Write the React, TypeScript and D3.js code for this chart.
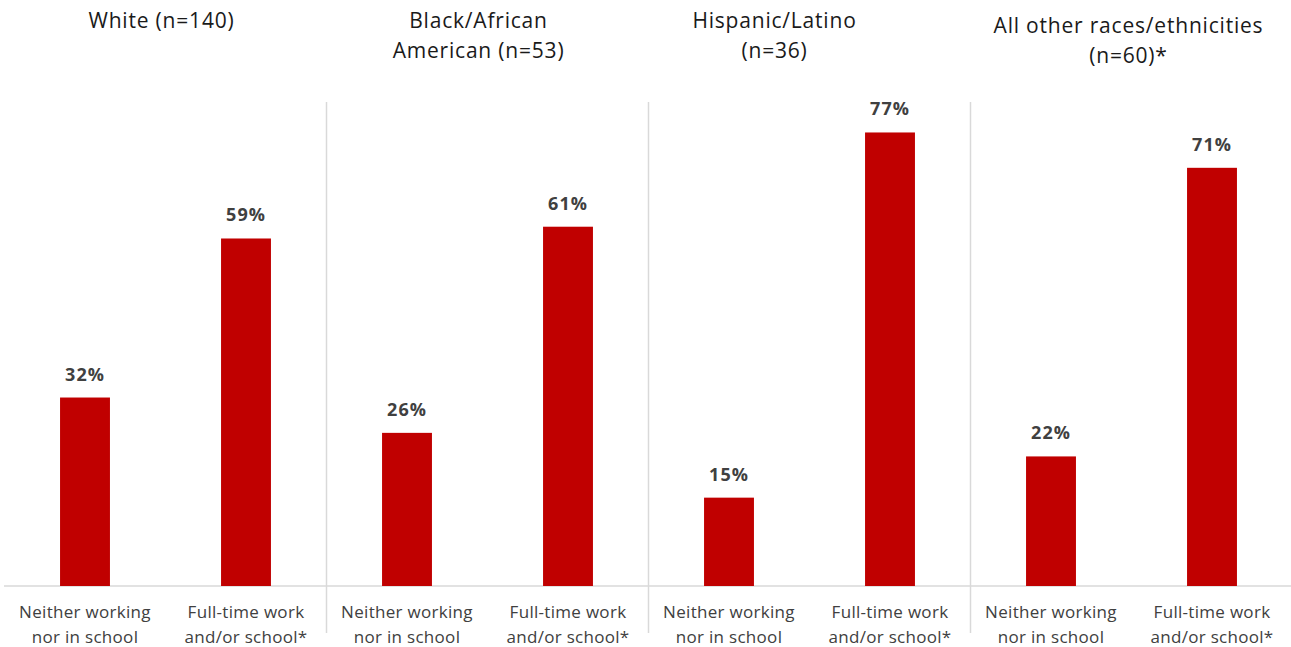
import React from "react";
import * as d3 from "d3";

const groups = [
  ["White (n=140)"],
  ["Black/African", "American (n=53)"],
  ["Hispanic/Latino", "(n=36)"],
  ["All other races/ethnicities", "(n=60)*"],
];
const titleDx = [-4, -9, -35, -3];
const titleDy = [0, 0, 0, 5];
const statuses = [
  ["Neither working", "nor in school"],
  ["Full-time work", "and/or school*"],
];
const neitherValues = [32, 26, 15, 22];
const fullTimeValues = [59, 61, 77, 71];

const W = 1291;
const H = 647;

export default function App() {
  const cats: { key: string; g: number; s: number; v: number }[] = [];
  groups.forEach((_, g) => {
    cats.push({ key: `${g}-0`, g, s: 0, v: neitherValues[g] });
    cats.push({ key: `${g}-1`, g, s: 1, v: fullTimeValues[g] });
  });
  const x = d3
    .scaleBand<string>()
    .domain(cats.map((c) => c.key))
    .range([4.5, 1292.5])
    .paddingInner(0.69)
    .paddingOuter(0.345);
  const step = x.step();
  const y = d3.scaleLinear().domain([0, 100]).range([586, -3]);
  const font = "'Open Sans', sans-serif";
  const groupCenter = (g: number) =>
    ((x(`${g}-0`)! + x(`${g}-1`)! + x.bandwidth()) / 2);
  const groupRight = (g: number) => x(`${g}-1`)! + x.bandwidth() + (step - x.bandwidth()) / 2;

  return (
    <svg width={W} height={H} style={{ position: "absolute", left: 0, top: 0, background: "#fff" }}>
      {groups.slice(0, -1).map((_, g) => (
        <line
          key={`sep${g}`}
          x1={groupRight(g)}
          x2={groupRight(g)}
          y1={102}
          y2={633}
          stroke="#d9d9d9"
          strokeWidth={1.5}
        />
      ))}
      <line x1={4} x2={W} y1={y(0)} y2={y(0)} stroke="#d9d9d9" strokeWidth={1.5} />
      {cats.map((c) => (
        <g key={c.key}>
          <rect
            x={x(c.key)}
            y={y(c.v)}
            width={x.bandwidth()}
            height={y(0) - y(c.v)}
            fill="#c00000"
          />
          <text
            x={x(c.key)! + x.bandwidth() / 2}
            y={y(c.v) - 17}
            textAnchor="middle"
            fontFamily={font}
            fontWeight="bold"
            fontSize={18}
            letterSpacing={1}
            fill="#404040"
          >
            {c.v}%
          </text>
          {statuses[c.s].map((line, i) => (
            <text
              key={i}
              x={x(c.key)! + x.bandwidth() / 2}
              y={618 + i * 25}
              textAnchor="middle"
              fontFamily={font}
              fontSize={17}
              letterSpacing={0.3}
              fill="#404040"
            >
              {line}
            </text>
          ))}
        </g>
      ))}
      {groups.map((lines, g) =>
        lines.map((line, i) => (
          <text
            key={`t${g}-${i}`}
            x={groupCenter(g) + titleDx[g]}
            y={28 + titleDy[g] + i * 30}
            textAnchor="middle"
            fontFamily={font}
            fontSize={21}
            letterSpacing={0.8}
            fill="#1a1a1a"
          >
            {line}
          </text>
        ))
      )}
    </svg>
  );
}
